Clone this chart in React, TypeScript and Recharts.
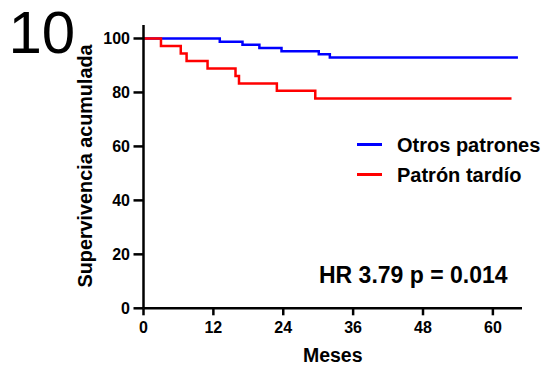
import React from 'react'
import { LineChart, Line, XAxis, YAxis } from 'recharts'

// Kaplan-Meier curves (months, % survival)
const otrosMonths = [0, 13.1, 17.0, 19.9, 23.7, 30.1, 32.0, 64.3]
const otrosSurvival = [100, 98.8, 97.7, 96.5, 95.3, 94.2, 93.0, 93.0]
const tardioMonths = [0, 3.0, 6.4, 7.4, 11.0, 15.8, 16.4, 22.9, 29.5, 63.2]
const tardioSurvival = [100, 97.2, 94.4, 91.7, 88.9, 86.1, 83.3, 80.6, 77.8, 77.8]

const xTicks = [0, 12, 24, 36, 48, 60]
const yTicks = [0, 20, 40, 60, 80, 100]

const seriesNames = ['Otros patrones', 'Patrón tardío']
const seriesColors = ['#0000ff', '#ff0000']

const otrosData = otrosMonths.map((m, i) => ({ month: m, value: otrosSurvival[i] }))
const tardioData = tardioMonths.map((m, i) => ({ month: m, value: tardioSurvival[i] }))

const font = '"Liberation Sans", Arial, sans-serif'
const tickText = { fontSize: 16, fontWeight: 700, fontFamily: font, fill: '#000' }

const XTick = (props: any) => (
  <text x={props.x} y={props.y} dy="0.71em" textAnchor="middle" style={tickText}>
    {props.payload.value}
  </text>
)

const YTick = (props: any) => (
  <text x={props.x} y={props.y} dy="0.36em" textAnchor="end" style={tickText}>
    {props.payload.value}
  </text>
)

function LegendBox() {
  return (
    <div style={{ position: 'absolute', left: 357, top: 134.5, fontFamily: font, fontWeight: 700, fontSize: 20, color: '#000' }}>
      {seriesNames.map((name, i) => (
        <div key={name} style={{ display: 'flex', alignItems: 'center', height: 20, lineHeight: '20px', marginBottom: i === 0 ? 10 : 0, whiteSpace: 'nowrap' }}>
          <span style={{ display: 'inline-block', width: 25, height: 3, background: seriesColors[i], marginRight: 15 }} />
          <span>{name}</span>
        </div>
      ))}
    </div>
  )
}

export default function App() {
  return (
    <div style={{ position: 'absolute', left: 0, top: 0, width: 548, height: 365, background: '#fff' }}>
      <LineChart width={548} height={365} margin={{ top: 25, right: 26, bottom: 0, left: 0 }}>
        <XAxis
          type="number"
          dataKey="month"
          domain={[0, 65]}
          ticks={xTicks}
          interval={0}
          height={56.7}
          axisLine={{ stroke: '#000', strokeWidth: 2.5 }}
          tickLine={{ stroke: '#000', strokeWidth: 2.5 }}
          tickSize={7}
          tickMargin={6.5}
          tick={XTick}
          label={{ value: 'Meses', position: 'insideBottom', offset: 3, style: { fontSize: 19.5, fontWeight: 700, fill: '#000', fontFamily: font } }}
        />
        <YAxis
          type="number"
          domain={[0, 105]}
          ticks={yTicks}
          interval={0}
          width={143.5}
          axisLine={{ stroke: '#000', strokeWidth: 2.5 }}
          tickLine={{ stroke: '#000', strokeWidth: 2.5 }}
          tickSize={10}
          tickMargin={3.5}
          tick={YTick}
          label={{
            content: () => (
              <text
                x={85}
                y={166}
                transform="rotate(-90 85 166)"
                textAnchor="middle"
                dominantBaseline="central"
                style={{ fontSize: 19.8, fontWeight: 700, fill: '#000', fontFamily: font }}
              >
                Supervivencia acumulada
              </text>
            ),
          }}
        />
        <Line
          data={otrosData}
          dataKey="value"
          name={seriesNames[0]}
          type="stepAfter"
          stroke={seriesColors[0]}
          strokeWidth={2.5}
          dot={false}
          isAnimationActive={false}
        />
        <Line
          data={tardioData}
          dataKey="value"
          name={seriesNames[1]}
          type="stepAfter"
          stroke={seriesColors[1]}
          strokeWidth={2.5}
          dot={false}
          isAnimationActive={false}
        />
      </LineChart>
      <div style={{ position: 'absolute', left: 8.5, top: 0, fontFamily: font, fontSize: 60, lineHeight: '66px', color: '#000' }}>10</div>
      <LegendBox />
      <div style={{ position: 'absolute', left: 319, top: 263.5, fontFamily: font, fontWeight: 700, fontSize: 23, lineHeight: '23px', color: '#000', whiteSpace: 'nowrap' }}>
        HR 3.79 p = 0.014
      </div>
    </div>
  )
}
